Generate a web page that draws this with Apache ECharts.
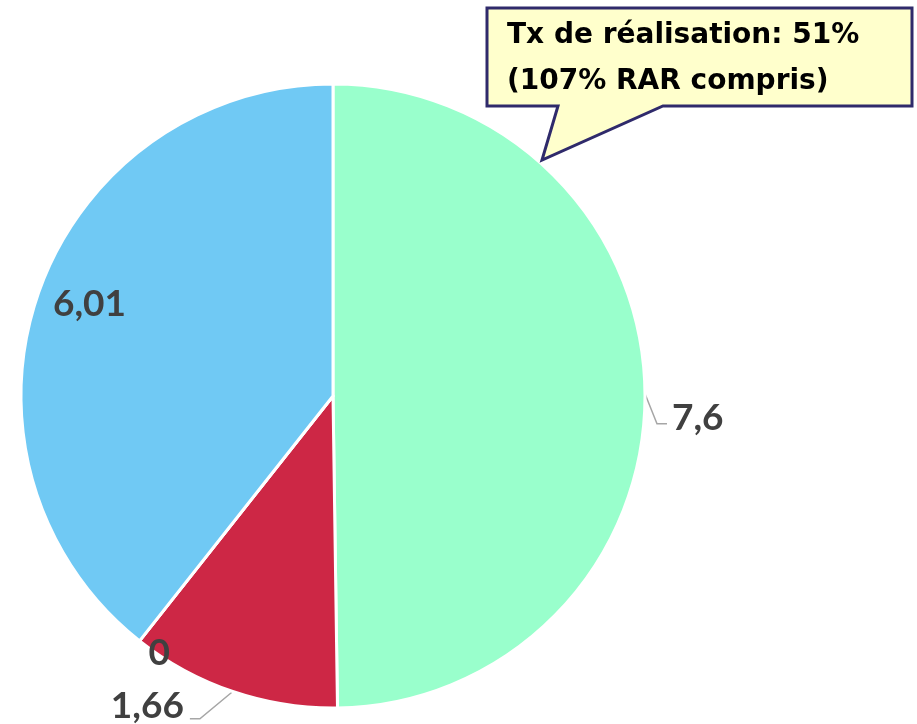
<!DOCTYPE html>
<html>
<head>
<meta charset="utf-8">
<script src="https://cdn.jsdelivr.net/npm/echarts@6/dist/echarts.min.js"></script>
<style>
html,body{margin:0;padding:0;background:#fff;}
#chart{width:917px;height:724px;}
</style>
</head>
<body>
<div id="chart"></div>
<script>
// ---- data ----
const categories = ['Réalisé', 'Non réalisé', 'Annulé', 'Reste à réaliser'];
const values = [7.6, 1.66, 0, 6.01];
const valueLabels = ['7,6', '1,66', '0', '6,01'];
const colors = ['#99FFCC', '#CD2745', '#FF9900', '#70C9F4'];
const calloutLines = ['Tx de réalisation: 51%', '(107% RAR compris)'];

// which label is drawn by which layer
const outsideLabel = [true, true, false, false];
const innerLabel = [false, false, false, true];
const edgeLabel = [false, false, true, false];
// small nudges (text offset, leader-line elbow offset)
const textNudge = [[0, 24], [-30, 3], [16, 17], [3, -6]];
const lineNudge = [[0, 30], [-29, 16], [0, 0], [0, 0]];

const FONT = 'Lato, "Noto Sans", sans-serif';
const labelStyle = {
  color: '#404040', fontWeight: 'bold', fontSize: 37, fontFamily: FONT
};

function mainData() {
  return values.map((v, i) => ({
    name: categories[i], value: v,
    itemStyle: { color: colors[i] },
    label: { show: outsideLabel[i] },
    labelLine: { show: outsideLabel[i] }
  }));
}
function labelData(flags) {
  return values.map((v, i) => ({
    name: categories[i], value: v,
    itemStyle: { color: 'rgba(0,0,0,0)', borderWidth: 0 },
    label: { show: flags[i] }
  }));
}
function nudgeLayout(params) {
  const t = textNudge[params.dataIndex], l = lineNudge[params.dataIndex];
  const out = { dx: t[0], dy: t[1] };
  const pts = params.labelLinePoints;
  if (pts && pts.length === 3) {
    out.labelLinePoints = [
      pts[0].slice(),
      [pts[1][0] + l[0], pts[1][1] + l[1]],
      [pts[2][0] + l[0], pts[2][1] + l[1]]
    ];
  }
  return out;
}

const chart = echarts.init(document.getElementById('chart'));
const center = [333, 396];
chart.setOption({
  animation: false,
  series: [
    {
      type: 'pie', center: center, radius: 312, startAngle: 90, clockwise: true,
      avoidLabelOverlap: false, silent: true,
      itemStyle: { borderColor: '#ffffff', borderWidth: 3 },
      label: Object.assign({ position: 'outside', formatter: p => valueLabels[p.dataIndex], alignTo: 'none' }, labelStyle),
      labelLine: { length: 12, length2: 10, lineStyle: { color: '#A6A6A6', width: 1.5 } },
      labelLayout: nudgeLayout,
      emphasis: { disabled: true },
      data: mainData()
    },
    {
      type: 'pie', center: center, radius: 516, startAngle: 90, clockwise: true,
      avoidLabelOverlap: false, silent: true, z: 3,
      label: Object.assign({ position: 'inside', formatter: p => valueLabels[p.dataIndex] }, labelStyle),
      labelLine: { show: false },
      labelLayout: nudgeLayout,
      emphasis: { disabled: true },
      data: labelData(innerLabel)
    },
    {
      type: 'pie', center: center, radius: 606, startAngle: 90, clockwise: true,
      avoidLabelOverlap: false, silent: true, z: 3,
      label: Object.assign({ position: 'inside', formatter: p => valueLabels[p.dataIndex] }, labelStyle),
      labelLine: { show: false },
      labelLayout: nudgeLayout,
      emphasis: { disabled: true },
      data: labelData(edgeLabel)
    }
  ],
  graphic: [
    {
      type: 'polygon', z: 10,
      shape: { points: [[487, 8], [912, 8], [912, 106], [663, 106], [542, 160], [558, 106], [487, 106]] },
      style: { fill: '#FFFFCC', stroke: '#2F2A6B', lineWidth: 3, lineJoin: 'miter' }
    },
    {
      type: 'text', z: 11, left: 507, top: 13,
      style: {
        text: calloutLines.join('\n'),
        fill: '#000000', font: 'bold 28px "DejaVu Sans", sans-serif', lineHeight: 46
      }
    }
  ]
});
</script>
</body>
</html>
